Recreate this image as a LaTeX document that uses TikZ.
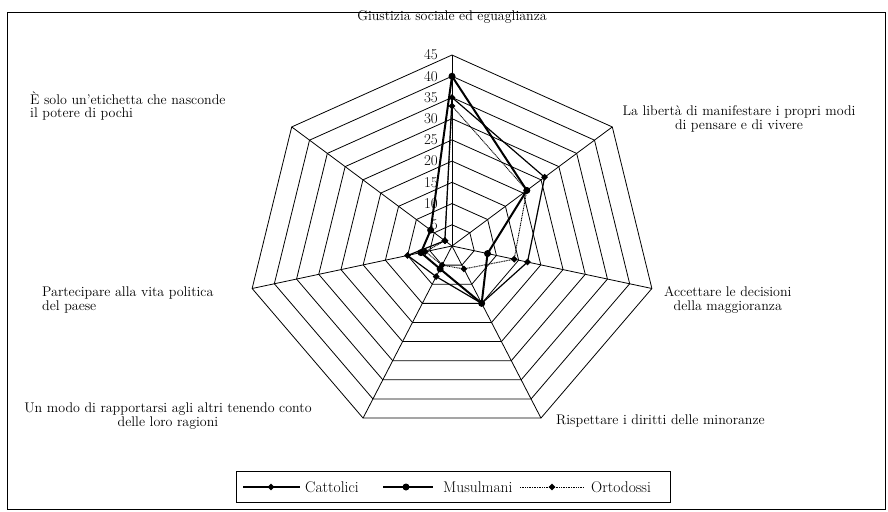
\documentclass[tikz,border=0pt]{standalone}
\usetikzlibrary{positioning,shapes.geometric}
\tikzset{
  grid/.style={draw=black, line width=0.8pt},
  lab/.style={font=\fontsize{14}{13.5}\selectfont, inner sep=0pt},
  leg/.style={font=\fontsize{15.5}{16}\selectfont, inner sep=0pt, anchor=west},
  num/.style={font=\fontsize{15}{15}\selectfont, inner sep=0pt, anchor=east},
  cat/.style={line width=1.2pt},
  mus/.style={line width=2pt},
  ort/.style={line width=0.9pt, dash pattern=on 1pt off 0.7pt},
  dia/.style={diamond, fill=black, inner sep=0pt, minimum size=7pt},
  dot/.style={circle, fill=black, inner sep=0pt, minimum size=7pt}
}
\begin{document}
\begin{tikzpicture}[x=1pt,y=-1pt]
\useasboundingbox (0,0) rectangle (888,511);
\draw[line width=0.8pt] (7,12) rectangle (885,509);

\begin{scope}[shift={(452,246)},x=4.556pt,y=4.244pt]
% rings and spokes
\foreach \r in {5,10,...,45}
  \draw[grid] (90:\r) \foreach \k in {1,...,6} {-- ({90-\k*360/7}:\r)} -- cycle;
\foreach \k in {0,...,6}
  \draw[grid] (0,0) -- ({90-\k*360/7}:45);
\foreach \r in {5,10,...,45}
  \node[num] (n\r) at ([xshift=-14pt]0,\r) {\r};

% series
\foreach \v [count=\k from 0] in {35,26,17,15,8,10,2}
  \coordinate (cat\k) at ({90-\k*360/7}:\v);
\foreach \v [count=\k from 0] in {40,21,8,15,6,7,6}
  \coordinate (mus\k) at ({90-\k*360/7}:\v);
\foreach \v [count=\k from 0] in {33,21,14,6,5,6,2}
  \coordinate (ort\k) at ({90-\k*360/7}:\v);

\draw[ort] (ort0) -- (ort1) -- (ort2) -- (ort3) -- (ort4) -- (ort5) -- (ort6) -- cycle;
\draw[cat] (cat0) -- (cat1) -- (cat2) -- (cat3) -- (cat4) -- (cat5) -- (cat6) -- cycle;
\draw[mus] (mus0) -- (mus1) -- (mus2) -- (mus3) -- (mus4) -- (mus5) -- (mus6) -- cycle;
\foreach \k in {0,...,6} {
  \node[dia] at (ort\k) {};
  \node[dia] at (cat\k) {};
  \node[dot] at (mus\k) {};
}
\end{scope}

% axis labels
\node[lab] (a0) at (452,17) {Giustizia sociale ed eguaglianza};
\node[lab, align=center] (a1) at (739,119) {La libertà di manifestare i propri modi\\di pensare e di vivere};
\node[lab, align=center, anchor=west] (a2) at (664,300) {Accettare le decisioni\\della maggioranza};
\node[lab, anchor=west] (a3) at (556,421) {Rispettare i diritti delle minoranze};
\node[lab, align=center] (a4) at (168,416) {Un modo di rapportarsi agli altri tenendo conto\\delle loro ragioni};
\node[lab, align=left, anchor=west] (a5) at (42,300) {Partecipare alla vita politica\\del paese};
\node[lab, align=left, anchor=west] (a6) at (30,106) {È solo un'etichetta che nasconde\\il potere di pochi};

% legend
\node[draw, line width=0.8pt, minimum width=434pt, minimum height=31pt, inner sep=0pt] (legend) at (453,486.5) {};
\coordinate (l1a) at (243,487); \coordinate (l1b) at (300,487);
\coordinate (l2a) at (383,487); \coordinate (l2b) at (433,487);
\coordinate (l3a) at (520,487); \coordinate (l3b) at (583,487);
\draw[cat] (l1a) -- (l1b);
\draw[mus] (l2a) -- (l2b);
\draw[ort] (l3a) -- (l3b);
\node[dia] (m1) at (271,487) {};
\node[dot] (m2) at (406,487) {};
\node[dia] (m3) at (552,487) {};
\node[leg] (t1) at (305,487) {Cattolici};
\node[leg] (t2) at (443,487) {Musulmani};
\node[leg] (t3) at (591,487) {Ortodossi};
\end{tikzpicture}
\end{document}
